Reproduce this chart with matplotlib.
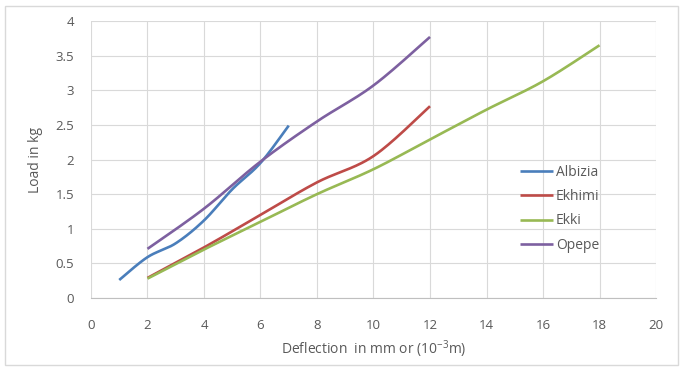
import numpy as np
import matplotlib
matplotlib.use("Agg")
import matplotlib.pyplot as plt
from matplotlib.patches import Rectangle

plt.rcParams['font.family'] = ['Open Sans', 'DejaVu Sans']

# deflection (mm) and load (kg) for each timber
albizia_x = [1, 2, 3, 4, 5, 6, 7]
albizia_y = [0.26, 0.59, 0.79, 1.12, 1.57, 1.95, 2.49]

ekhimi_x = [2, 4, 6, 8, 10, 12]
ekhimi_y = [0.29, 0.73, 1.20, 1.67, 2.05, 2.77]

ekki_x = [2, 4, 6, 8, 10, 12, 14, 16, 18]
ekki_y = [0.28, 0.70, 1.10, 1.50, 1.86, 2.29, 2.72, 3.13, 3.65]

opepe_x = [2, 4, 6, 8, 10, 12]
opepe_y = [0.71, 1.29, 1.97, 2.55, 3.07, 3.77]

names = ['Albizia', 'Ekhimi', 'Ekki', 'Opepe']
colors = ['#4A7EBB', '#BE4B48', '#98B954', '#7D60A0']


# smooth line like excel (catmull-rom through the points)
def smooth(x, y, n=30):
    p = np.column_stack([x, y]).astype(float)
    p = np.vstack([p[0], p, p[-1]])
    out = []
    for i in range(1, len(p) - 2):
        p0, p1, p2, p3 = p[i - 1], p[i], p[i + 1], p[i + 2]
        t = np.linspace(0, 1, n)[:, None]
        c = 0.5 * ((2 * p1) + (-p0 + p2) * t + (2 * p0 - 5 * p1 + 4 * p2 - p3) * t ** 2
                   + (-p0 + 3 * p1 - 3 * p2 + p3) * t ** 3)
        out.append(c)
    c = np.vstack(out)
    return c[:, 0], c[:, 1]


fig = plt.figure(figsize=(6.83, 3.72), dpi=100)
ax = fig.add_axes([0.1332, 0.1989, 0.8273, 0.7446])

data = [(albizia_x, albizia_y), (ekhimi_x, ekhimi_y), (ekki_x, ekki_y), (opepe_x, opepe_y)]
for (xs, ys), name, col in zip(data, names, colors):
    sx, sy = smooth(xs, ys)
    ax.plot(sx, sy, color=col, lw=1.9, label=name, solid_capstyle='butt')

ax.set_xlim(0, 20)
ax.set_ylim(0, 4)
ax.set_xticks(range(0, 21, 2))
ax.set_yticks(np.arange(0, 4.01, 0.5))
ax.set_yticklabels(['0', '0.5', '1', '1.5', '2', '2.5', '3', '3.5', '4'])
ax.grid(True, color='#D9D9D9', lw=0.8)
ax.set_axisbelow(True)
for s in ['top', 'right', 'left']:
    ax.spines[s].set_visible(False)
ax.spines['bottom'].set_color('#BFBFBF')
ax.tick_params(length=0, labelsize=9.5, colors='#595959')
ax.tick_params(axis='x', pad=15)
ax.tick_params(axis='y', pad=12)

ax.set_xlabel('Deflection  in mm or (10$^{\\mathregular{-3}}$m)', fontsize=10, color='#595959', labelpad=5)
ax.set_ylabel('Load in kg', fontsize=10, color='#595959', labelpad=9)

ax.legend(loc='upper left', bbox_to_anchor=(0.737, 0.525), frameon=False, fontsize=10,
          handlelength=2.4, handletextpad=0.2, labelspacing=0.66, labelcolor='#595959')

# outer chart border
fig.patches.append(Rectangle((0.007, 0.018), 0.986, 0.966, transform=fig.transFigure,
                             fill=False, edgecolor='#D9D9D9', lw=1))

fig.savefig('out.png', dpi=100)
